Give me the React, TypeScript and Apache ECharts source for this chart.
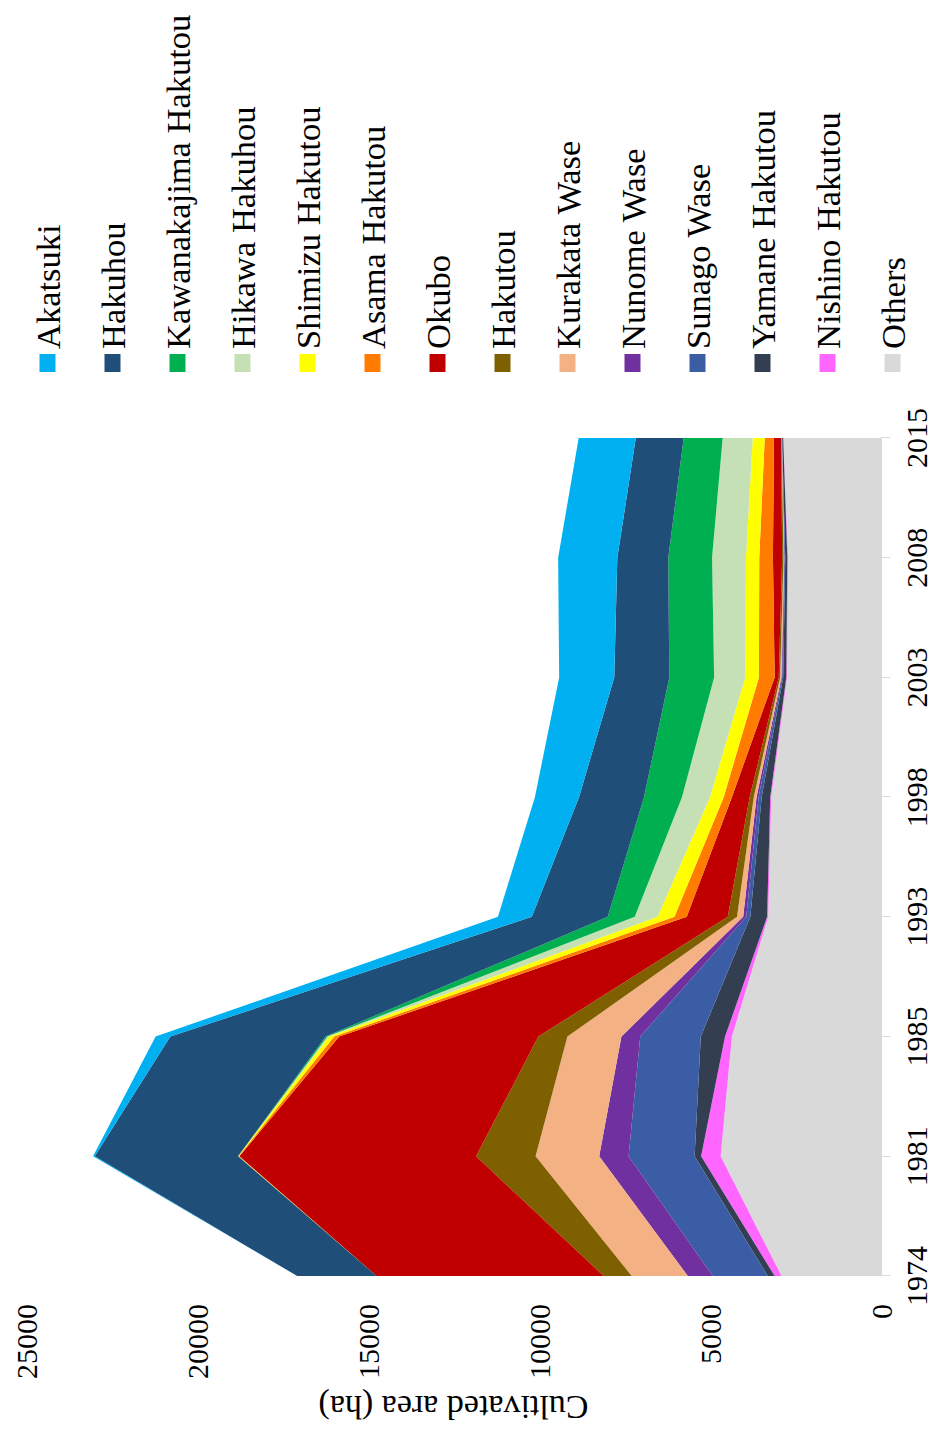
import React, { useEffect, useRef } from "react";
import * as echarts from "echarts";

const years = ["1974", "1981", "1985", "1993", "1998", "2003", "2008", "2015"];
const valueTicks = [0, 5000, 10000, 15000, 20000, 25000];

const akatsuki = [0, 50, 430, 990, 1290, 1610, 1730, 1670];
const hakuhou = [2320, 4190, 4540, 2220, 1900, 1610, 1490, 1400];
const kawanakajimaHakutou = [0, 0, 50, 790, 1110, 1310, 1280, 1140];
const hikawaHakuhou = [0, 0, 50, 670, 820, 910, 990, 880];
const shimizuHakutou = [0, 20, 150, 490, 400, 400, 390, 350];
const asamaHakutou = [0, 20, 150, 360, 240, 460, 400, 270];
const okubo = [6640, 6920, 5820, 1200, 520, 120, 270, 210];
const hakutou = [820, 1740, 850, 270, 120, 40, 40, 10];
const kurakataWase = [1640, 1860, 1580, 180, 80, 40, 20, 10];
const nunomeWase = [730, 860, 550, 90, 60, 20, 10, 0];
const sunagoWase = [1610, 1930, 1770, 120, 90, 30, 20, 10];
const yamaneHakutou = [200, 190, 710, 490, 250, 90, 60, 30];
const nishinoHakutou = [200, 570, 200, 30, 30, 20, 20, 0];
const others = [2910, 4690, 4360, 3300, 3210, 2750, 2720, 2860];

// legend order (top of stack first)
const legendNames = [
  "Akatsuki",
  "Hakuhou",
  "Kawanakajima Hakutou",
  "Hikawa Hakuhou",
  "Shimizu Hakutou",
  "Asama Hakutou",
  "Okubo",
  "Hakutou",
  "Kurakata Wase",
  "Nunome Wase",
  "Sunago Wase",
  "Yamane Hakutou",
  "Nishino Hakutou",
  "Others",
];

// stack order (bottom first)
const stackSeries: [string, number[], string][] = [
  ["Others", others, "#D9D9D9"],
  ["Nishino Hakutou", nishinoHakutou, "#FF66FF"],
  ["Yamane Hakutou", yamaneHakutou, "#333F50"],
  ["Sunago Wase", sunagoWase, "#3A5DA5"],
  ["Nunome Wase", nunomeWase, "#7030A0"],
  ["Kurakata Wase", kurakataWase, "#F4B183"],
  ["Hakutou", hakutou, "#7F6000"],
  ["Okubo", okubo, "#C00000"],
  ["Asama Hakutou", asamaHakutou, "#FF7C00"],
  ["Shimizu Hakutou", shimizuHakutou, "#FFFF00"],
  ["Hikawa Hakuhou", hikawaHakuhou, "#C5E0B4"],
  ["Kawanakajima Hakutou", kawanakajimaHakutou, "#00B050"],
  ["Hakuhou", hakuhou, "#1F4E79"],
  ["Akatsuki", akatsuki, "#00B0F0"],
];

const FONT = "'Liberation Serif', 'Times New Roman', serif";

export default function App() {
  const ref = useRef<HTMLDivElement>(null);

  useEffect(() => {
    if (!ref.current) return;
    const chart = echarts.init(ref.current, undefined, { renderer: "svg" });
    chart.setOption({
      animation: false,
      backgroundColor: "#ffffff",
      textStyle: { fontFamily: FONT },
      grid: { left: 153, right: 438, top: 26, bottom: 55 },
      legend: {
        data: legendNames,
        orient: "vertical",
        left: 1060,
        top: 30,
        padding: 0,
        icon: "rect",
        itemWidth: 18,
        itemHeight: 16,
        itemGap: 30,
        textStyle: {
          fontFamily: FONT,
          fontSize: 34.5,
          color: "#000",
          lineHeight: 34,
        },
      },
      xAxis: {
        type: "category",
        data: years,
        boundaryGap: false,
        axisLine: { show: true, lineStyle: { color: "#D9D9D9", width: 1 } },
        axisTick: { show: true, length: 9, lineStyle: { color: "#D9D9D9" } },
        axisLabel: {
          color: "#000",
          fontFamily: FONT,
          fontSize: 30,
          margin: 20,
        },
        splitLine: { show: false },
      },
      yAxis: {
        type: "value",
        min: 0,
        max: 25000,
        interval: 5000,
        name: "Cultivated area (ha)",
        nameLocation: "middle",
        nameRotate: 90,
        nameGap: 114,
        nameTextStyle: { color: "#000", fontFamily: FONT, fontSize: 34 },
        axisLine: { show: false },
        axisTick: { show: false },
        splitLine: { show: false },
        axisLabel: {
          color: "#000",
          fontFamily: FONT,
          fontSize: 30,
          margin: 28,
          formatter: (v: number) => (valueTicks.includes(v) ? String(v) : ""),
        },
      },
      series: stackSeries.map(([name, data, color]) => ({
        name,
        type: "line",
        stack: "total",
        data,
        symbol: "none",
        showSymbol: false,
        lineStyle: { width: 0, color },
        itemStyle: { color },
        areaStyle: { color, opacity: 1 },
      })),
    });
    return () => chart.dispose();
  }, []);

  return (
    <div
      style={{
        position: "absolute",
        left: 0,
        top: 0,
        width: 936,
        height: 1432,
        overflow: "hidden",
        background: "#fff",
      }}
    >
      <div
        ref={ref}
        style={{
          position: "absolute",
          left: 0,
          top: 0,
          width: 1432,
          height: 936,
          transformOrigin: "0 0",
          transform: "translateY(1432px) rotate(-90deg)",
        }}
      />
    </div>
  );
}
